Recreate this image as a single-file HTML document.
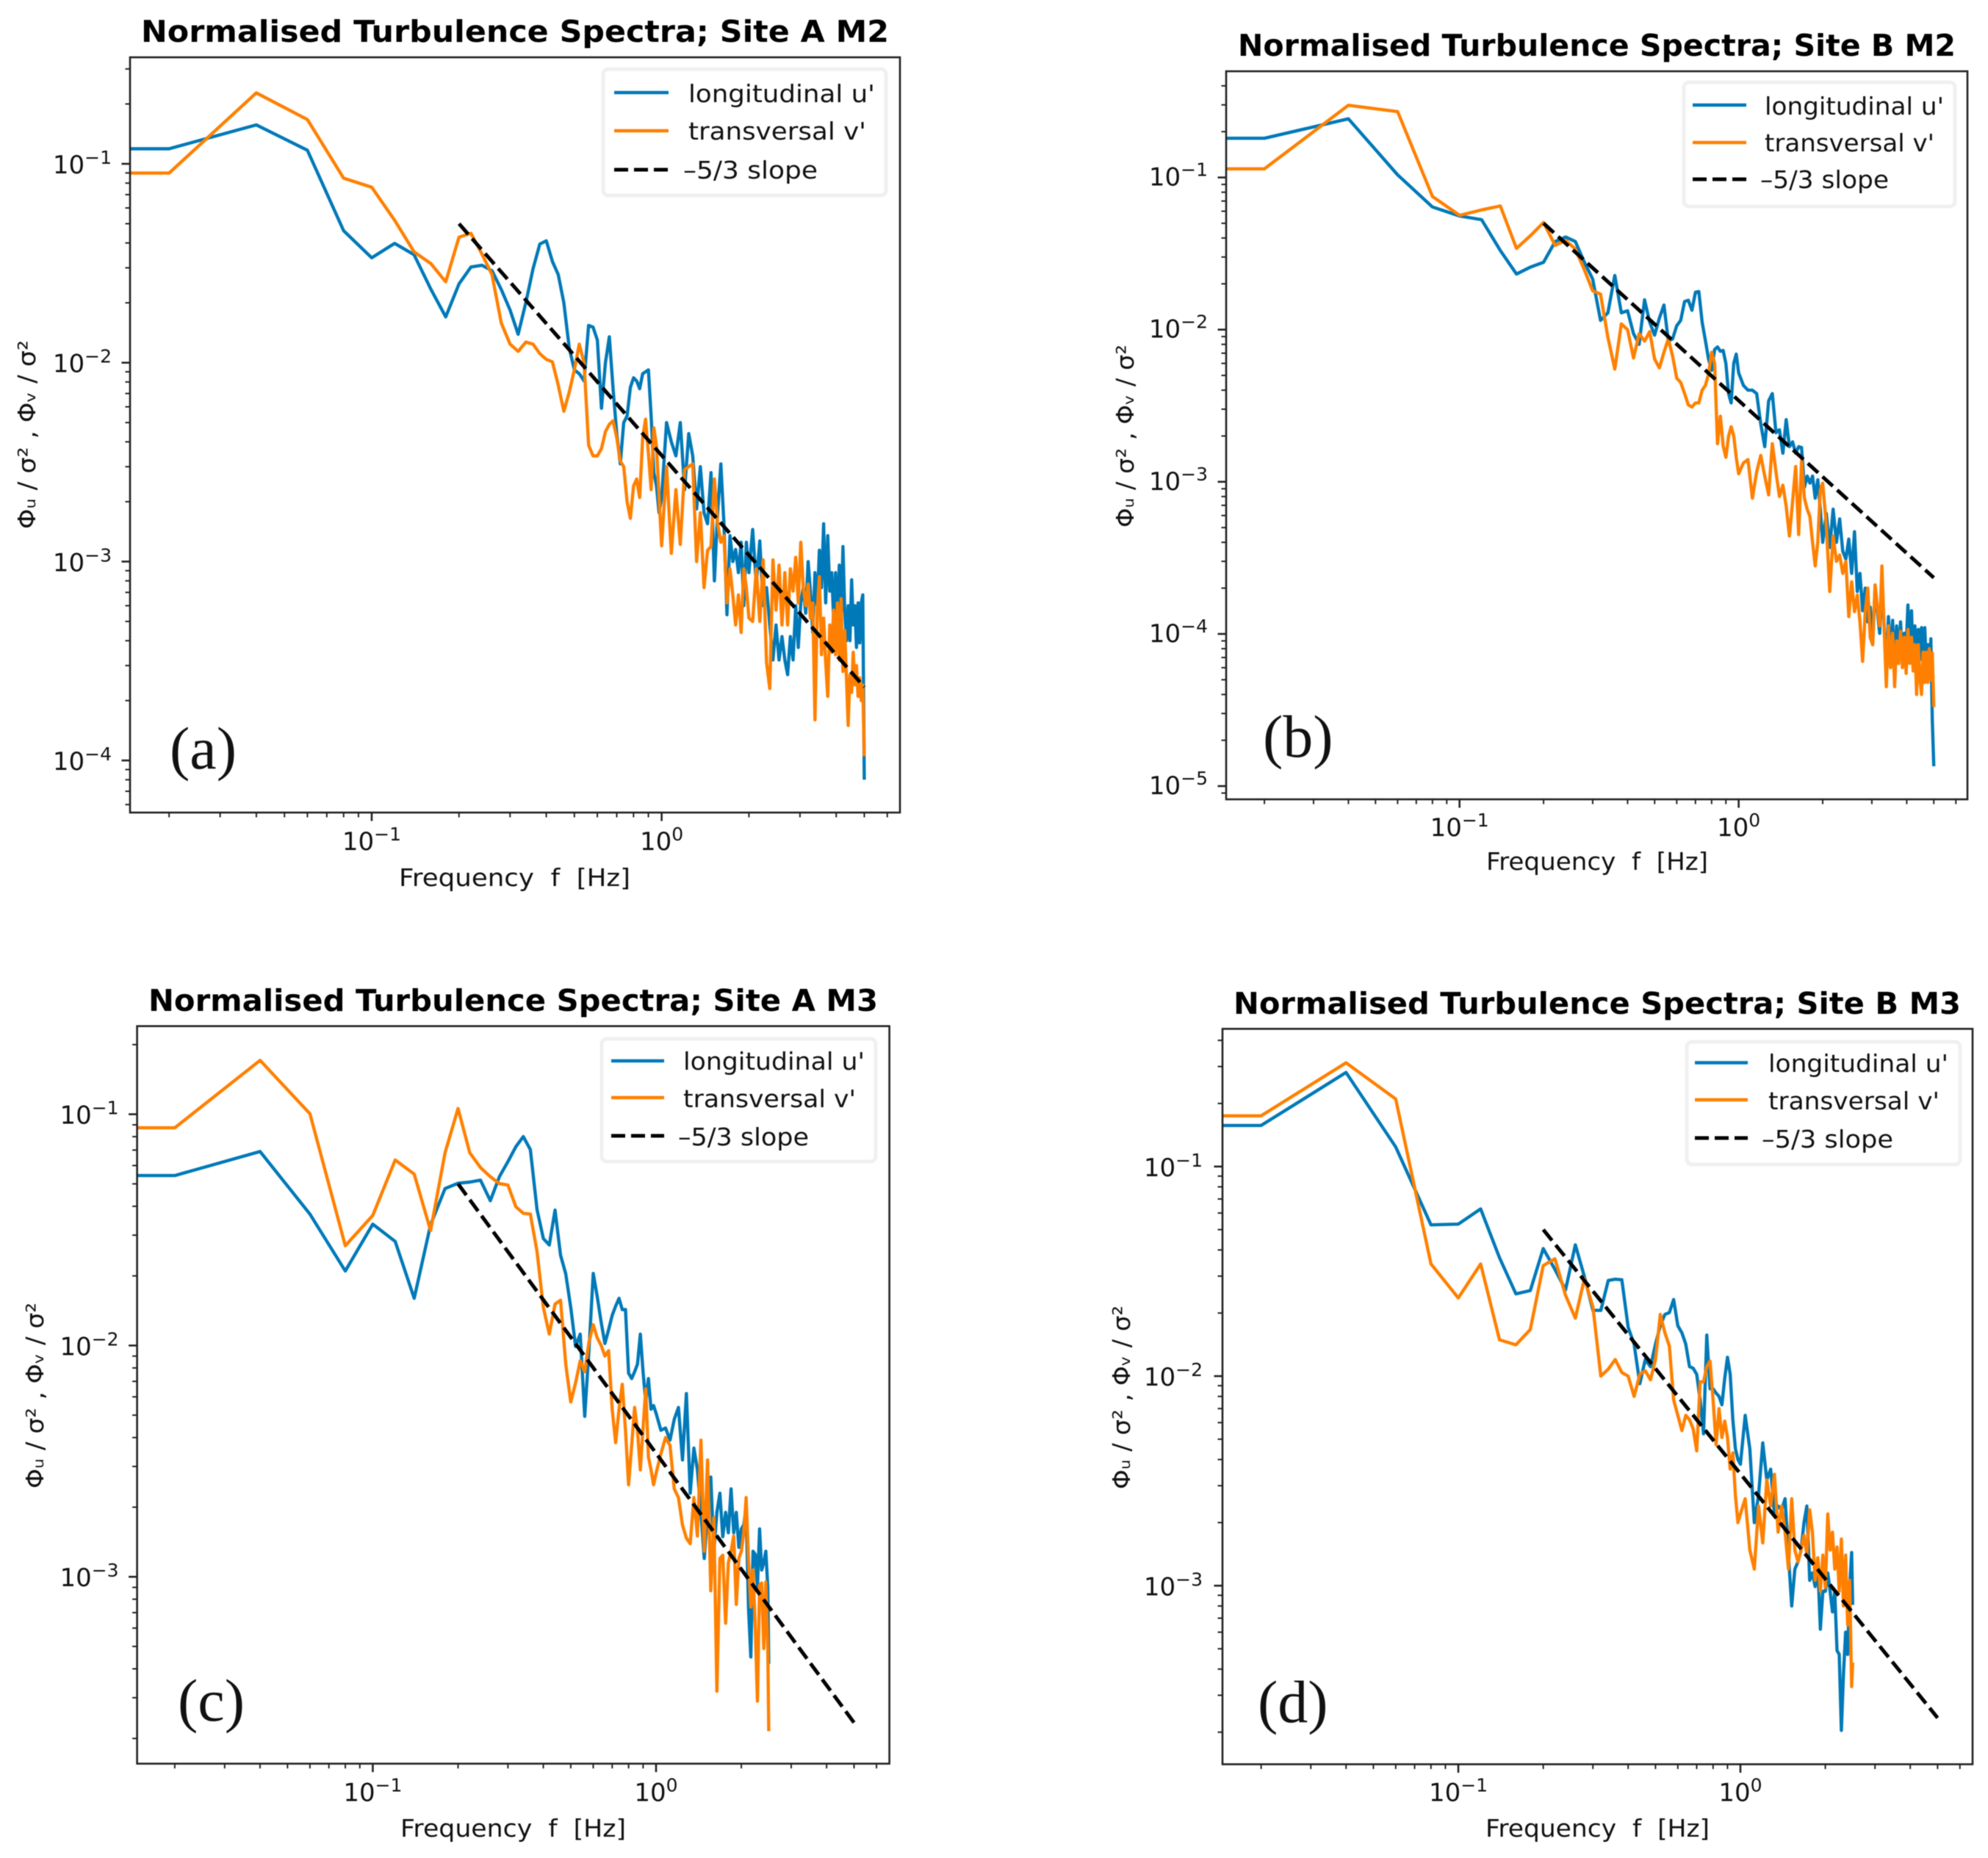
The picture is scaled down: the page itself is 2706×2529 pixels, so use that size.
<!DOCTYPE html>
<html lang="en">
<head>
<meta charset="utf-8">
<title>Normalised Turbulence Spectra</title>
<style>
html,body{margin:0;padding:0;background:#fff;}
svg{display:block;filter:blur(0.6px);}
text{font-family:"DejaVu Sans","Liberation Sans",sans-serif;fill:#111;}
.title{font-weight:bold;font-size:41px;text-anchor:start;fill:#000;}
.label{font-size:33px;}
.legend-text{font-size:33px;}
.letter{font-family:"Liberation Serif",serif;font-size:82px;fill:#111;}
.legend-box{fill:#fff;stroke:#f0f0f0;stroke-width:5;}
.u{stroke:#0079b8;stroke-width:4.4;fill:none;}
.v{stroke:#ff8000;stroke-width:4.4;fill:none;}
.k{stroke:#000;stroke-width:5;stroke-dasharray:19 8;fill:none;}
</style>
</head>
<body>
<svg id="figure" xmlns="http://www.w3.org/2000/svg" width="2706" height="2529" viewBox="0 0 2706 2529">
  <rect width="2706" height="2529" fill="#fff"/>

  <!-- Panel A -->
  <g id="panel-a">
    <text class="title" x="192" y="57" textLength="1018" lengthAdjust="spacingAndGlyphs">Normalised Turbulence Spectra; Site A M2</text>
    <text class="label" x="543" y="1206" textLength="315" lengthAdjust="spacingAndGlyphs">Frequency&#160;&#160;f&#160;&#160;[Hz]</text>
    <text class="label" transform="translate(48,720) rotate(-90)" textLength="257" lengthAdjust="spacingAndGlyphs">Φᵤ / σ² , Φᵥ / σ²</text>
  </g>
  <g id="legend-a">
    <rect class="legend-box" x="821" y="94" width="385" height="172" rx="7"/>
    <line class="u" x1="836" y1="126" x2="910" y2="126"/>
    <line class="v" x1="836" y1="178" x2="910" y2="178"/>
    <line class="k" x1="836" y1="231" x2="910" y2="231"/>
    <text class="legend-text" x="937" y="139" textLength="254" lengthAdjust="spacingAndGlyphs">longitudinal u'</text>
    <text class="legend-text" x="937" y="190" textLength="242" lengthAdjust="spacingAndGlyphs">transversal v'</text>
    <text class="legend-text" x="930" y="243" textLength="183" lengthAdjust="spacingAndGlyphs">–5/3 slope</text>
  </g>
  <text class="letter" x="231" y="1046">(a)</text>

  <!-- Panel B -->
  <g id="panel-b">
    <text class="title" x="1685" y="76" textLength="977" lengthAdjust="spacingAndGlyphs">Normalised Turbulence Spectra; Site B M2</text>
    <text class="label" x="2023" y="1184" textLength="302" lengthAdjust="spacingAndGlyphs">Frequency&#160;&#160;f&#160;&#160;[Hz]</text>
    <text class="label" transform="translate(1543,718) rotate(-90)" textLength="249" lengthAdjust="spacingAndGlyphs">Φᵤ / σ² , Φᵥ / σ²</text>
  </g>
  <g id="legend-b">
    <rect class="legend-box" x="2292" y="112" width="369" height="169" rx="7"/>
    <line class="u" x1="2304" y1="143" x2="2377" y2="143"/>
    <line class="v" x1="2304" y1="194" x2="2377" y2="194"/>
    <line class="k" x1="2304" y1="244" x2="2377" y2="244"/>
    <text class="legend-text" x="2402" y="156" textLength="244" lengthAdjust="spacingAndGlyphs">longitudinal u'</text>
    <text class="legend-text" x="2402" y="206" textLength="231" lengthAdjust="spacingAndGlyphs">transversal v'</text>
    <text class="legend-text" x="2396" y="256" textLength="175" lengthAdjust="spacingAndGlyphs">–5/3 slope</text>
  </g>
  <text class="letter" x="1719" y="1030">(b)</text>

  <!-- Panel C -->
  <g id="panel-c">
    <text class="title" x="202" y="1376" textLength="993" lengthAdjust="spacingAndGlyphs">Normalised Turbulence Spectra; Site A M3</text>
    <text class="label" x="545" y="2500" textLength="307" lengthAdjust="spacingAndGlyphs">Frequency&#160;&#160;f&#160;&#160;[Hz]</text>
    <text class="label" transform="translate(59,2026) rotate(-90)" textLength="253" lengthAdjust="spacingAndGlyphs">Φᵤ / σ² , Φᵥ / σ²</text>
  </g>
  <g id="legend-c">
    <rect class="legend-box" x="819" y="1414" width="373" height="167" rx="7"/>
    <line class="u" x1="832" y1="1444" x2="904" y2="1444"/>
    <line class="v" x1="832" y1="1494" x2="904" y2="1494"/>
    <line class="k" x1="832" y1="1546" x2="904" y2="1546"/>
    <text class="legend-text" x="930" y="1456" textLength="247" lengthAdjust="spacingAndGlyphs">longitudinal u'</text>
    <text class="legend-text" x="930" y="1507" textLength="235" lengthAdjust="spacingAndGlyphs">transversal v'</text>
    <text class="legend-text" x="923" y="1559" textLength="178" lengthAdjust="spacingAndGlyphs">–5/3 slope</text>
  </g>
  <text class="letter" x="242" y="2342">(c)</text>

  <!-- Panel D -->
  <g id="panel-d">
    <text class="title" x="1679" y="1380" textLength="990" lengthAdjust="spacingAndGlyphs">Normalised Turbulence Spectra; Site B M3</text>
    <text class="label" x="2022" y="2500" textLength="305" lengthAdjust="spacingAndGlyphs">Frequency&#160;&#160;f&#160;&#160;[Hz]</text>
    <text class="label" transform="translate(1538,2027) rotate(-90)" textLength="250" lengthAdjust="spacingAndGlyphs">Φᵤ / σ² , Φᵥ / σ²</text>
  </g>
  <g id="legend-d">
    <rect class="legend-box" x="2296" y="1418" width="372" height="167" rx="7"/>
    <line class="u" x1="2307" y1="1446.5" x2="2379" y2="1446.5"/>
    <line class="v" x1="2307" y1="1497" x2="2379" y2="1497"/>
    <line class="k" x1="2307" y1="1549" x2="2379" y2="1549"/>
    <text class="legend-text" x="2407" y="1459" textLength="245" lengthAdjust="spacingAndGlyphs">longitudinal u'</text>
    <text class="legend-text" x="2407" y="1510" textLength="233" lengthAdjust="spacingAndGlyphs">transversal v'</text>
    <text class="legend-text" x="2398" y="1562" textLength="179" lengthAdjust="spacingAndGlyphs">–5/3 slope</text>
  </g>
  <text class="letter" x="1712" y="2344">(d)</text>
</svg>

<script>
// Frequencies [Hz]
const freqM2 = [
.02,.04,.06,.08,.10,.12,.14,.16,.18,.20,.22,.24,.26,.28,.30,.32,.34,.36,.38,.40,.42,.44,.46,.48,.50,
.52,.54,.56,.58,.60,.62,.64,.66,.68,.70,.72,.74,.76,.78,.80,.82,.84,.86,.88,.90,.92,.94,.96,.98,1.00,
1.04,1.08,1.12,1.16,1.20,1.24,1.28,1.32,1.36,1.40,1.44,1.48,1.52,1.56,1.60,1.64,1.68,1.72,1.76,1.80,1.84,1.88,1.92,1.96,2.00,
2.06,2.12,2.18,2.24,2.30,2.36,2.42,2.48,2.54,2.60,2.66,2.72,2.78,2.84,2.90,2.96,3.02,3.08,3.14,3.20,
3.26,3.32,3.38,3.44,3.50,3.56,3.62,3.68,3.74,3.80,3.86,3.92,3.98,4.04,4.10,4.16,4.22,4.28,4.34,4.40,
4.46,4.52,4.58,4.64,4.70,4.76,4.82,4.88,4.94,5.00];
const freqM3 = [
.02,.04,.06,.08,.10,.12,.14,.16,.18,.20,.22,.24,.26,.28,.30,.32,.34,.36,.38,.40,.42,.44,.46,.48,.50,
.52,.54,.56,.58,.60,.62,.64,.66,.68,.70,.72,.74,.76,.78,.80,.82,.84,.86,.88,.90,.92,.94,.96,.98,1.00,
1.04,1.08,1.12,1.16,1.20,1.24,1.28,1.32,1.36,1.40,1.44,1.48,1.52,1.56,1.60,1.64,1.68,1.72,1.76,1.80,1.84,1.88,1.92,1.96,2.00,
2.04,2.08,2.12,2.16,2.20,2.24,2.28,2.32,2.36,2.40,2.44,2.48,2.50];

// Site A M2
const uA = [
.119,.157,.117,.0461,.0337,.0398,.0349,.0234,.017,.0249,
.0303,.0309,.029,.0233,.0184,.0139,.02,.0296,.0395,.041,
.0323,.0277,.02,.0119,.0092,.0088,.0081,.0154,.0151,.013,
.0059,.01,.0135,.0074,.0044,.0031,.005,.0054,.0075,.0084,
.0081,.0074,.0088,.009,.0092,.0054,.0028,.0024,.00176,.0021,
.005,.004,.0034,.005,.0023,.0044,.0034,.00184,.003,.00176,
.00155,.0028,.0008,.00176,.0031,.00155,.00054,.00135,.001,.00115,
.00088,.00125,.0006,.00125,.00088,
.00145,.00077,.00127,.0006,.00074,.00048,.00032,.00048,.00032,.00042,
.00032,.00027,.00042,.00032,.0006,.00037,.00062,.00074,.00055,.001,
.00071,.00044,.00088,.0006,.00114,.00074,.00155,.00062,.00135,.00071,
.00088,.00052,.00088,.00048,.00096,.00046,.00119,.00057,.0004,.0006,
.0004,.00081,.00048,.0006,.00037,.00062,.00039,.00062,.00068,.00008];
const vA = [
.0898,.2275,.167,.0847,.0762,.052,.0361,.0315,.0255,.0428,
.0447,.0352,.0277,.0158,.0124,.0114,.0127,.0124,.0111,.0104,
.0101,.0077,.0057,.0071,.0092,.0124,.01,.00385,.0034,.0034,
.0037,.0045,.0049,.0051,.0042,.0032,.003,.002,.00165,.0024,
.0026,.0021,.0042,.0052,.0035,.0023,.0047,.0038,.0021,.0012,
.003,.0011,.0023,.00122,.0029,.003,.0031,.001,.00176,.00074,
.00114,.00119,.0026,.00155,.00125,.00135,.00062,.00092,.00068,.00048,
.00068,.00044,.00092,.00074,.00052,
.0005,.00092,.0005,.00102,.00031,.00023,.00102,.00057,.00096,.00048,
.00088,.00048,.00092,.00071,.00105,.00062,.00125,.00074,.0006,.00077,
.00052,.00062,.00016,.00057,.00084,.00034,.00052,.00031,.00021,.00048,
.00035,.00057,.00034,.00062,.00032,.00065,.00028,.00045,.00026,.00015,
.00027,.00022,.00035,.00024,.0003,.00021,.00026,.0002,.00024,.000105];

// Site B M2
const uB = [
.181,.243,.104,.064,.0558,.0528,.0331,.0232,.0258,.0277,
.0379,.0406,.0379,.0277,.0215,.0115,.0129,.0227,.0129,.0133,
.0094,.008,.0157,.0112,.0092,.0119,.0145,.0084,.0087,.0106,
.0115,.0153,.0156,.0134,.0176,.0178,.0112,.0085,.0064,.0054,
.0074,.0077,.0072,.0073,.006,.0038,.0033,.006,.0069,.0052,
.0043,.004,.004,.0038,.0024,.0017,.0034,.0038,.0021,.0022,
.00154,.00256,.0017,.00183,.00154,.0017,.00168,.00092,.00109,.00098,
.00109,.00078,.00103,.00066,.0004,
.00062,.00037,.00066,.0004,.00057,.00035,.00031,.00042,.00025,.00047,
.00019,.00025,.000142,.0002,.00012,.00015,.000085,.0002,.000142,.000101,
.00022,.000113,.00006,.00013,.000068,.000123,.000057,.000113,.000064,.00012,
.000072,.000101,.00008,.000155,.000068,.000142,.000064,.000113,.00006,.000107,
.000068,.00011,.000057,.00011,.000064,.000085,.000051,.000093,.000027,.0000135];
const vB = [
.114,.298,.271,.075,.0564,.0612,.0649,.0342,.0416,.0506,
.0358,.0386,.0339,.0247,.018,.0171,.0089,.0055,.0109,.01,
.0065,.0094,.0084,.0097,.0064,.0056,.0071,.0087,.0067,.0048,
.0045,.0038,.0032,.0031,.0033,.0033,.004,.0043,.0051,.0071,
.006,.00178,.0027,.00172,.00145,.002,.0023,.002,.00145,.00113,
.00133,.0014,.00078,.00116,.00149,.00109,.00082,.00178,.00116,.0008,
.00095,.00069,.00044,.00074,.00126,.00045,.00137,.00078,.00066,.00059,
.0004,.00028,.0004,.00088,.00098,
.00052,.00019,.00044,.0003,.00033,.00025,.0003,.00013,.00022,.00014,
.00018,.00012,.000066,.00014,.0002,.000095,.000085,.00021,.00015,.000113,
.00028,.00011,.000045,.000113,.00006,.000101,.000045,.00009,.000064,.000104,
.00006,.000095,.000055,.000107,.000064,.000095,.000057,.000085,.00004,.000085,
.000051,.00004,.000076,.000048,.000076,.000048,.00008,.00005,.000075,.000033];

// Site A M3
const uC = [
.0543,.069,.037,.021,.0335,.0282,.016,.0333,.0477,.0503,
.0509,.0519,.0423,.0537,.0624,.0724,.08,.0703,.0387,.029,
.0272,.0385,.0246,.0204,.0146,.0099,.0112,.00494,.0097,.0205,
.0163,.0126,.0102,.0117,.0135,.0148,.016,.0143,.0143,.0076,
.0072,.0077,.0083,.0112,.0077,.0057,.0072,.0053,.0055,.0051,
.0043,.0044,.0039,.0048,.0054,.0032,.0062,.0023,.0036,.0029,
.0019,.0012,.0019,.0027,.00128,.0019,.0023,.00149,.0019,.00155,
.0024,.00155,.0019,.00134,.00161,
.00168,.002,.00074,.00045,.00129,.00125,.0009,.00161,.00107,.00115,.00129,.0009,.00042];
const vC = [
.0874,.171,.1005,.027,.0365,.0634,.0551,.0314,.0682,.1059,
.0682,.0588,.0537,.0501,.0494,.0398,.0373,.037,.0255,.0146,
.0112,.0151,.0157,.0083,.0057,.0069,.0086,.0077,.0104,.0123,
.0108,.01,.009,.0095,.0053,.0038,.0053,.0068,.0043,.0025,
.0037,.0054,.0043,.0029,.0044,.0065,.0033,.0029,.0025,.0028,
.0034,.004,.0037,.0024,.0022,.00167,.00147,.00139,.0022,.0015,
.0039,.00129,.0032,.00087,.0018,.00032,.0012,.00124,.00063,.00115,
.00129,.0015,.00076,.0012,.00129,
.00155,.0022,.0012,.00074,.00107,.00061,.00029,.00092,.00094,.00049,.00095,.00049,.000215];

// Site B M3
const uD = [
.157,.281,.124,.0527,.0531,.0628,.0367,.0247,.0256,.0406,
.0323,.0258,.0423,.0298,.0206,.0206,.0286,.029,.0288,.0171,
.0142,.0092,.012,.0111,.0142,.0174,.0197,.0201,.0232,.0174,
.0161,.0142,.0111,.0109,.0102,.0077,.0053,.0157,.0087,.0087,
.0083,.008,.0073,.0098,.0123,.0102,.0062,.0045,.004,.0038,
.0065,.0045,.002,.0027,.0048,.0032,.0036,.0022,.0024,.0023,
.0026,.0014,.0008,.0012,.0013,.00147,.002,.0024,.00106,.00115,
.00099,.00125,.00062,.00094,.00094,
.00115,.00094,.00075,.00094,.00049,.00047,.000204,.00038,.0006,.00047,.00098,.00144,.00081];
const vD = [
.1746,.3126,.21,.0343,.0236,.0343,.0149,.0141,.0167,.0337,
.0363,.0243,.0189,.0292,.0214,.01,.0108,.012,.0104,.01,
.008,.0102,.0106,.0096,.012,.0197,.0161,.0139,.0077,.0065,
.0055,.0065,.0062,.0056,.0044,.0094,.0094,.0111,.0118,.0077,
.0047,.007,.0051,.0061,.0051,.0036,.0043,.0027,.002,.0022,
.0026,.00148,.0012,.0024,.0016,.0032,.0024,.0034,.0018,.0024,
.0018,.0012,.0026,.00148,.0013,.00148,.00174,.00141,.0023,.0018,
.00106,.00136,.00094,.0014,.00098,
.0022,.00148,.0018,.0012,.00153,.00094,.00167,.0008,.0014,.00065,.00106,.00033,.00043];

// Reference line and axis ticks
const slopeFreq = [0.2, 5];
const slopeValue = [0.05, 0.000234];
const xMajorExponents = [-1, 0];
const xMajorLabels = ["−1", "0"];
const yMajorExponentsA = [-4, -3, -2, -1];
const yMajorExponentsB = [-5, -4, -3, -2, -1];
const yMajorExponentsC = [-3, -2, -1];
const yMajorExponentsD = [-3, -2, -1];
const minorMultipliers = [2, 3, 4, 5, 6, 7, 8, 9];
const minorDecadesX = [-2, -1, 0];

const SVGNS = 'http://www.w3.org/2000/svg';
const figure = document.getElementById('figure');

const panels = [
  {key:'a', left:177, right:1225, top:78, bottom:1106, xLog:[-1.8336,0.822], yLog:[-4.262,-0.4644], f:freqM2, u:uA, v:vA, yMajor:yMajorExponentsA, yLabelGap:25, yLabelDrop:13, xLabelGap:51},
  {key:'b', left:1669, right:2678, top:97, bottom:1088, xLog:[-1.836,0.8195], yLog:[-5.087,-0.302], f:freqM2, u:uB, v:vB, yMajor:yMajorExponentsB, yLabelGap:25, yLabelDrop:11, xLabelGap:50},
  {key:'c', left:186.6, right:1210.6, top:1396.7, bottom:2400.6, xLog:[-1.832,0.8237], yLog:[-3.808,-0.619], f:freqM3, u:uC, v:vC, yMajor:yMajorExponentsC, yLabelGap:25, yLabelDrop:13, xLabelGap:51},
  {key:'d', left:1664, right:2685, top:1400.4, bottom:2401.4, xLog:[-1.836,0.823], yLog:[-3.852,-0.343], f:freqM3, u:uD, v:vD, yMajor:yMajorExponentsD, yLabelGap:27, yLabelDrop:13, xLabelGap:50}
];

function tickLine(x1, y1, x2, y2, width) {
  const t = document.createElementNS(SVGNS, 'line');
  t.setAttribute('x1', x1);
  t.setAttribute('y1', y1);
  t.setAttribute('x2', x2);
  t.setAttribute('y2', y2);
  t.setAttribute('stroke', '#222');
  t.setAttribute('stroke-width', width);
  return t;
}

function powerLabel(x, y, anchor, exponentText) {
  const t = document.createElementNS(SVGNS, 'text');
  t.setAttribute('x', x);
  t.setAttribute('y', y);
  t.setAttribute('text-anchor', anchor);
  t.setAttribute('font-size', '34');
  const base = document.createElementNS(SVGNS, 'tspan');
  base.textContent = '10';
  const sup = document.createElementNS(SVGNS, 'tspan');
  sup.setAttribute('dy', '-13');
  sup.setAttribute('font-size', '25');
  sup.textContent = exponentText;
  t.appendChild(base);
  t.appendChild(sup);
  return t;
}

panels.forEach(function (p) {
  const xScale = function (f) {
    return p.left + (Math.log10(f) - p.xLog[0]) / (p.xLog[1] - p.xLog[0]) * (p.right - p.left);
  };
  const yScale = function (val) {
    return p.bottom - (Math.log10(val) - p.yLog[0]) / (p.yLog[1] - p.yLog[0]) * (p.bottom - p.top);
  };
  const linePoints = function (fs, vals) {
    return fs.map(function (f, i) { return xScale(f).toFixed(1) + ',' + yScale(vals[i]).toFixed(1); });
  };

  const g = document.createElementNS(SVGNS, 'g');
  
  
  const legend = document.getElementById('legend-' + p.key);
  figure.insertBefore(g, legend);

  const defs = document.createElementNS(SVGNS, 'defs');
  const clip = document.createElementNS(SVGNS, 'clipPath');
  clip.setAttribute('id', 'clip-' + p.key);
  const clipRect = document.createElementNS(SVGNS, 'rect');
  clipRect.setAttribute('x', p.left);
  clipRect.setAttribute('y', p.top);
  clipRect.setAttribute('width', p.right - p.left);
  clipRect.setAttribute('height', p.bottom - p.top);
  clip.appendChild(clipRect);
  defs.appendChild(clip);
  g.appendChild(defs);

  // series start flat from the left axis edge
  const leftFreq = Math.pow(10, p.xLog[0]);
  const uLine = document.createElementNS(SVGNS, 'polyline');
  
  
  uLine.setAttribute('class', 'u');
  uLine.setAttribute('clip-path', 'url(#clip-' + p.key + ')');
  uLine.setAttribute('stroke-linejoin', 'round');
  uLine.setAttribute('points', linePoints([leftFreq].concat(p.f), [p.u[0]].concat(p.u)).join(' '));
  g.appendChild(uLine);

  const vLine = document.createElementNS(SVGNS, 'polyline');
  
  
  vLine.setAttribute('class', 'v');
  vLine.setAttribute('clip-path', 'url(#clip-' + p.key + ')');
  vLine.setAttribute('stroke-linejoin', 'round');
  vLine.setAttribute('points', linePoints([leftFreq].concat(p.f), [p.v[0]].concat(p.v)).join(' '));
  g.appendChild(vLine);

  const slopeLine = document.createElementNS(SVGNS, 'polyline');
  
  
  slopeLine.setAttribute('class', 'k');
  slopeLine.setAttribute('points', linePoints(slopeFreq, slopeValue).join(' '));
  g.appendChild(slopeLine);

  // x ticks
  minorDecadesX.forEach(function (d) {
    minorMultipliers.forEach(function (m) {
      const lg = d + Math.log10(m);
      if (lg <= p.xLog[0] || lg >= p.xLog[1]) return;
      const x = xScale(m * Math.pow(10, d));
      const t = tickLine(x, p.bottom, x, p.bottom + 6.5, 2);
      
      
      g.appendChild(t);
    });
  });
  xMajorExponents.forEach(function (e, i) {
    const x = xScale(Math.pow(10, e));
    const t = tickLine(x, p.bottom, x, p.bottom + 11.5, 2.6);
    
    
    g.appendChild(t);
    const lab = powerLabel(x, p.bottom + p.xLabelGap, 'middle', xMajorLabels[i]);
    
    
    g.appendChild(lab);
  });

  // y ticks
  for (let d = Math.floor(p.yLog[0]); d <= Math.ceil(p.yLog[1]); d++) {
    minorMultipliers.forEach(function (m) {
      const lg = d + Math.log10(m);
      if (lg <= p.yLog[0] || lg >= p.yLog[1]) return;
      const y = yScale(m * Math.pow(10, d));
      const t = tickLine(p.left - 6.5, y, p.left, y, 2);
      
      
      g.appendChild(t);
    });
  }
  p.yMajor.forEach(function (e) {
    const y = yScale(Math.pow(10, e));
    const t = tickLine(p.left - 11.5, y, p.left, y, 2.6);
    
    
    g.appendChild(t);
    const lab = powerLabel(p.left - p.yLabelGap, y + p.yLabelDrop, 'end', '−' + Math.abs(e));
    
    
    g.appendChild(lab);
  });

  const frame = document.createElementNS(SVGNS, 'rect');
  
  
  frame.setAttribute('x', p.left);
  frame.setAttribute('y', p.top);
  frame.setAttribute('width', p.right - p.left);
  frame.setAttribute('height', p.bottom - p.top);
  frame.setAttribute('fill', 'none');
  frame.setAttribute('stroke', '#222');
  frame.setAttribute('stroke-width', '2.6');
  g.appendChild(frame);
});
</script>
</body>
</html>
